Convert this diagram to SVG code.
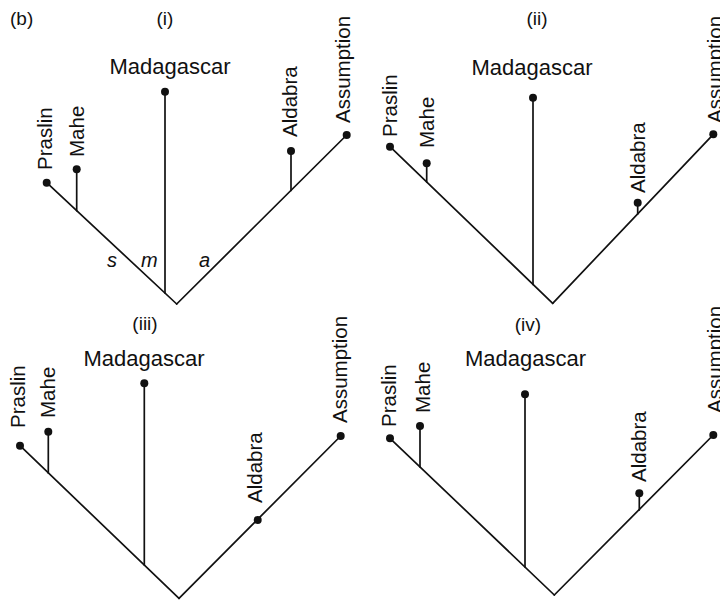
<svg xmlns="http://www.w3.org/2000/svg" width="720" height="602" viewBox="0 0 720 602">
<style>
text{font-family:"Liberation Sans",Arial,sans-serif;font-size:20.5px;fill:#111}
.t{font-size:19px;text-anchor:middle}
.m{font-size:22px;text-anchor:middle}
.i{font-style:italic;font-size:20px}
line{stroke:#111;stroke-width:1.7;stroke-linecap:round}
circle{fill:#111}
</style>
<rect width="720" height="602" fill="#fff"/>
<text x="10" y="25" style="font-size:19px">(b)</text>
<!-- Panel i -->
<g id="panel-i">
<text class="t" x="165" y="25">(i)</text>
<g id="i-connectors">
<line x1="46.7" y1="182.7" x2="176.7" y2="304"/>
<line x1="346.7" y1="135" x2="176.7" y2="304"/>
<line x1="76.7" y1="169.3" x2="76.7" y2="210.7"/>
<line x1="165" y1="91.7" x2="165" y2="293"/>
<line x1="291" y1="151" x2="291" y2="190.4"/>
</g>
<g id="i-praslin"><circle cx="46.7" cy="182.7" r="4"/><text transform="translate(52,170) rotate(-90)">Praslin</text></g>
<g id="i-mahe"><circle cx="76.7" cy="169.3" r="4"/><text transform="translate(84,157) rotate(-90)">Mahe</text></g>
<g id="i-madagascar"><circle cx="165" cy="91.7" r="4"/><text class="m" x="170" y="74">Madagascar</text></g>
<g id="i-aldabra"><circle cx="291" cy="151" r="4"/><text transform="translate(297,137) rotate(-90)">Aldabra</text></g>
<g id="i-assumption"><circle cx="346.7" cy="135" r="4"/><text transform="translate(350,123) rotate(-90)">Assumption</text></g>
<g id="i-labels"><text class="i" x="107" y="267">s</text><text class="i" x="141" y="267">m</text><text class="i" x="199" y="267">a</text></g>
</g>
<!-- Panel ii -->
<g id="panel-ii">
<text class="t" x="537" y="25">(ii)</text>
<g id="ii-connectors">
<line x1="390" y1="146.7" x2="552.7" y2="303.3"/>
<line x1="713.3" y1="134.3" x2="552.7" y2="303.3"/>
<line x1="426.7" y1="163.3" x2="426.7" y2="182"/>
<line x1="533" y1="97.7" x2="533" y2="284.4"/>
<line x1="637.7" y1="202.7" x2="637.7" y2="214"/>
</g>
<g id="ii-praslin"><circle cx="390" cy="146.7" r="4"/><text transform="translate(397,137) rotate(-90)">Praslin</text></g>
<g id="ii-mahe"><circle cx="426.7" cy="163.3" r="4"/><text transform="translate(434,148) rotate(-90)">Mahe</text></g>
<g id="ii-madagascar"><circle cx="533" cy="97.7" r="4"/><text class="m" x="532" y="75">Madagascar</text></g>
<g id="ii-aldabra"><circle cx="637.7" cy="202.7" r="4"/><text transform="translate(645,193) rotate(-90)">Aldabra</text></g>
<g id="ii-assumption"><circle cx="713.3" cy="134.3" r="4"/><text transform="translate(722,123) rotate(-90)">Assumption</text></g>
</g>
<!-- Panel iii -->
<g id="panel-iii">
<text class="t" x="145" y="330">(iii)</text>
<g id="iii-connectors">
<line x1="20" y1="445.7" x2="179" y2="598.3"/>
<line x1="340.7" y1="436" x2="179" y2="598.3"/>
<line x1="48.3" y1="431.7" x2="48.3" y2="472.9"/>
<line x1="144.3" y1="383.3" x2="144.3" y2="565"/>
</g>
<g id="iii-praslin"><circle cx="20" cy="445.7" r="4"/><text transform="translate(25,428) rotate(-90)">Praslin</text></g>
<g id="iii-mahe"><circle cx="48.3" cy="431.7" r="4"/><text transform="translate(55,418) rotate(-90)">Mahe</text></g>
<g id="iii-madagascar"><circle cx="144.3" cy="383.3" r="4"/><text class="m" x="144" y="366">Madagascar</text></g>
<g id="iii-aldabra"><circle cx="257.7" cy="520" r="4"/><text transform="translate(262,503) rotate(-90)">Aldabra</text></g>
<g id="iii-assumption"><circle cx="340.7" cy="436" r="4"/><text transform="translate(347,423) rotate(-90)">Assumption</text></g>
</g>
<!-- Panel iv -->
<g id="panel-iv">
<text class="t" x="528" y="331">(iv)</text>
<g id="iv-connectors">
<line x1="390" y1="438.3" x2="554.3" y2="595"/>
<line x1="713.3" y1="435" x2="554.3" y2="595"/>
<line x1="420" y1="426" x2="420" y2="466.9"/>
<line x1="525" y1="394.3" x2="525" y2="567"/>
<line x1="639.3" y1="493.3" x2="639.3" y2="510"/>
</g>
<g id="iv-praslin"><circle cx="390" cy="438.3" r="4"/><text transform="translate(396,427) rotate(-90)">Praslin</text></g>
<g id="iv-mahe"><circle cx="420" cy="426" r="4"/><text transform="translate(430,413) rotate(-90)">Mahe</text></g>
<g id="iv-madagascar"><circle cx="525" cy="394.3" r="4"/><text class="m" x="525.5" y="366">Madagascar</text></g>
<g id="iv-aldabra"><circle cx="639.3" cy="493.3" r="4"/><text transform="translate(646,482) rotate(-90)">Aldabra</text></g>
<g id="iv-assumption"><circle cx="713.3" cy="435" r="4"/><text transform="translate(722,413) rotate(-90)">Assumption</text></g>
</g>
</svg>
